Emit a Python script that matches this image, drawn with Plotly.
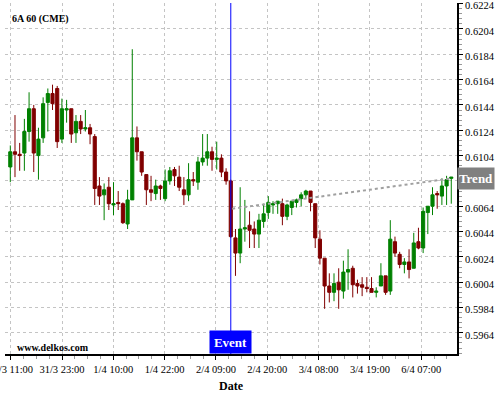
import plotly.graph_objects as go

# ---- data ----
opens = [0.6095, 0.6107, 0.6105, 0.6106, 0.6123, 0.6141, 0.6104, 0.6118, 0.6146, 0.6153,
         0.6157, 0.6117, 0.6140, 0.6141, 0.6122, 0.6131, 0.6125, 0.6126, 0.6119, 0.6080,
         0.6073, 0.6079, 0.6065, 0.6067, 0.6066, 0.6050, 0.6069, 0.6118, 0.6107, 0.6089,
         0.6077, 0.6074, 0.6080, 0.6070, 0.6084, 0.6093, 0.6087, 0.6077, 0.6073, 0.6085,
         0.6083, 0.6099, 0.6102, 0.6107, 0.6101, 0.6102, 0.6091, 0.6084, 0.6039, 0.6027,
         0.6046, 0.6049, 0.6046, 0.6042, 0.6052, 0.6059, 0.6065, 0.6066, 0.6066, 0.6056,
         0.6063, 0.6067, 0.6070, 0.6073, 0.6076, 0.6066, 0.6038, 0.6023, 0.6001, 0.5996,
         0.6004, 0.5997, 0.6012, 0.6015, 0.6003, 0.6002, 0.6000, 0.5999, 0.5996, 0.6001,
         0.6009, 0.5997, 0.6036, 0.6026, 0.6018, 0.6020, 0.6015, 0.6036, 0.6031, 0.6059,
         0.6064, 0.6074, 0.6072, 0.6080, 0.6086]
highs = [0.6112, 0.6136, 0.6114, 0.6133, 0.6154, 0.6144, 0.6126, 0.6150, 0.6157, 0.6160,
         0.6159, 0.6149, 0.6148, 0.6141, 0.6136, 0.6136, 0.6140, 0.6129, 0.6121, 0.6087,
         0.6082, 0.6087, 0.6083, 0.6076, 0.6067, 0.6077, 0.6188, 0.6127, 0.6107, 0.6089,
         0.6088, 0.6085, 0.6081, 0.6093, 0.6095, 0.6095, 0.6096, 0.6087, 0.6098, 0.6091,
         0.6103, 0.6121, 0.6121, 0.6111, 0.6115, 0.6105, 0.6094, 0.6085, 0.6046, 0.6079,
         0.6069, 0.6060, 0.6052, 0.6058, 0.6066, 0.6072, 0.6068, 0.6068, 0.6070, 0.6066,
         0.6068, 0.6070, 0.6075, 0.6077, 0.6076, 0.6066, 0.6045, 0.6023, 0.6011, 0.6011,
         0.6015, 0.6021, 0.6030, 0.6017, 0.6006, 0.6008, 0.6008, 0.6008, 0.6000, 0.6019,
         0.6009, 0.6053, 0.6040, 0.6028, 0.6023, 0.6030, 0.6043, 0.6047, 0.6063, 0.6064,
         0.6079, 0.6076, 0.6086, 0.6088, 0.6087]
lows = [0.6083, 0.6087, 0.6092, 0.6092, 0.6115, 0.6091, 0.6085, 0.6114, 0.6123, 0.6140,
        0.6110, 0.6114, 0.6130, 0.6114, 0.6114, 0.6121, 0.6123, 0.6113, 0.6065, 0.6065,
        0.6053, 0.6061, 0.6057, 0.6061, 0.6050, 0.6046, 0.6069, 0.6100, 0.6088, 0.6065,
        0.6068, 0.6069, 0.6069, 0.6068, 0.6081, 0.6080, 0.6076, 0.6065, 0.6068, 0.6080,
        0.6077, 0.6096, 0.6096, 0.6092, 0.6093, 0.6087, 0.6081, 0.6039, 0.6009, 0.6019,
        0.6036, 0.6031, 0.6031, 0.6031, 0.6047, 0.6054, 0.6058, 0.6058, 0.6049, 0.6053,
        0.6057, 0.6063, 0.6064, 0.6070, 0.6060, 0.6031, 0.6018, 0.5983, 0.5988, 0.5989,
        0.5983, 0.5991, 0.5998, 0.5992, 0.5995, 0.5993, 0.5996, 0.5996, 0.5992, 0.6001,
        0.5994, 0.5994, 0.6024, 0.6015, 0.6011, 0.6007, 0.6015, 0.6030, 0.6027, 0.6042,
        0.6057, 0.6062, 0.6065, 0.6065, 0.6066]
closes = [0.6107, 0.6105, 0.6104, 0.6123, 0.6141, 0.6106, 0.6117, 0.6145, 0.6153, 0.6145,
          0.6115, 0.6141, 0.6141, 0.6121, 0.6131, 0.6125, 0.6126, 0.6121, 0.6078, 0.6072,
          0.6077, 0.6066, 0.6066, 0.6066, 0.6051, 0.6069, 0.6118, 0.6107, 0.6091, 0.6077,
          0.6075, 0.6080, 0.6078, 0.6084, 0.6092, 0.6088, 0.6079, 0.6073, 0.6085, 0.6084,
          0.6099, 0.6102, 0.6107, 0.6101, 0.6102, 0.6091, 0.6084, 0.6040, 0.6027, 0.6046,
          0.6047, 0.6045, 0.6042, 0.6053, 0.6058, 0.6067, 0.6066, 0.6068, 0.6056, 0.6065,
          0.6068, 0.6069, 0.6073, 0.6076, 0.6067, 0.6039, 0.6023, 0.6001, 0.5996, 0.6003,
          0.5998, 0.6012, 0.6014, 0.6002, 0.6001, 0.6000, 0.5999, 0.5996, 0.5997, 0.6009,
          0.5996, 0.6038, 0.6027, 0.6018, 0.6020, 0.6014, 0.6035, 0.6031, 0.6060, 0.6064,
          0.6073, 0.6073, 0.6080, 0.6085, 0.6087]
bars = list(range(len(opens)))

x_tick_labels = ["31/3 11:00", "31/3 23:00", "1/4 10:00", "1/4 22:00", "2/4 09:00",
                 "2/4 20:00", "3/4 08:00", "3/4 19:00", "6/4 07:00"]
y_tick_values = [0.5964, 0.5984, 0.6004, 0.6024, 0.6044, 0.6064, 0.6084,
                 0.6104, 0.6124, 0.6144, 0.6164, 0.6184, 0.6204, 0.6224]

event_bar = 47
trend_x = [47.3, 94]
trend_y = [0.6062, 0.6086]

# ---- layout helpers ----
tick_step = 10.94
tick0 = 0.08
x_tick_pos = [tick0 + k * tick_step for k in range(len(x_tick_labels))]
x_minor_pos = [tick0 + k * tick_step / 4 for k in range(-1, 4 * len(x_tick_labels) + 4)]
# the label hidden under the "Trend" tag is left blank
y_tick_text = ["" if abs(v - trend_y[-1]) < 0.0005 else f"{v:.4f}" for v in y_tick_values]

serif = "Liberation Serif, Times New Roman, serif"
GREEN = "#008000"
RED = "#800000"
GRID = "#c4c4c4"

fig = go.Figure()
fig.add_trace(go.Scatter(
    x=trend_x, y=trend_y, mode="lines",
    line=dict(color="#a0a0a0", width=2, dash="dot"),
    showlegend=False, hoverinfo="skip",
))
fig.add_trace(go.Candlestick(
    x=bars, open=opens, high=highs, low=lows, close=closes,
    increasing=dict(line=dict(color=GREEN, width=1), fillcolor=GREEN),
    decreasing=dict(line=dict(color=RED, width=1), fillcolor=RED),
    whiskerwidth=0, showlegend=False, hoverinfo="skip",
))

fig.add_shape(type="line", xref="x", yref="paper", x0=event_bar, x1=event_bar,
              y0=0, y1=1, line=dict(color="#0000ff", width=1))

fig.add_annotation(x=event_bar, xref="x", y=0, yref="paper", yanchor="bottom",
                   text="<b>Event</b>", showarrow=False, bgcolor="#0000ff",
                   font=dict(family=serif, size=13, color="white"),
                   width=39, height=20, borderpad=1)
fig.add_annotation(x=1, xref="paper", xanchor="left", y=trend_y[-1], yref="y",
                   text="<b>Trend</b>", showarrow=False, bgcolor="#808080",
                   font=dict(family=serif, size=13, color="white"),
                   width=34, height=19, borderpad=1)
fig.add_annotation(x=0.012, xref="paper", xanchor="left", y=0.955, yref="paper",
                   yanchor="middle", text="<b>6A 60 (CME)</b>", showarrow=False,
                   font=dict(family=serif, size=10, color="black"))
fig.add_annotation(x=0.022, xref="paper", xanchor="left", y=0.018, yref="paper",
                   yanchor="middle", text="<b>www.delkos.com</b>", showarrow=False,
                   font=dict(family=serif, size=10, color="black"))

fig.update_layout(
    width=500, height=400,
    margin=dict(l=5, r=43, t=3, b=46, autoexpand=False),
    paper_bgcolor="white", plot_bgcolor="white",
    boxgap=0.05,
    font=dict(family=serif, size=10.5, color="black"),
    xaxis=dict(
        range=[-1.13, 95.22], rangeslider=dict(visible=False),
        automargin=False, ticklabeloverflow="allow",
        tickmode="array", tickvals=x_tick_pos, ticktext=x_tick_labels,
        ticks="outside", ticklen=4, tickcolor="black",
        showline=True, linecolor="black", linewidth=2,
        showgrid=True, gridcolor=GRID, griddash="3px,3px", gridwidth=1,
        zeroline=False,
        minor=dict(tickmode="array", tickvals=x_minor_pos, ticks="outside",
                   ticklen=3, tickcolor="#999999", showgrid=False),
        title=dict(text="<b>Date</b>", font=dict(family=serif, size=12), standoff=8),
        tickfont=dict(family=serif, size=10.5),
    ),
    yaxis=dict(
        side="right", range=[0.59473, 0.62245],
        automargin=False, ticklabeloverflow="allow", ticklabelshift=2,
        tickmode="array", tickvals=y_tick_values, ticktext=y_tick_text,
        ticks="outside", ticklen=4, tickcolor="black",
        showline=True, linecolor="black", linewidth=2,
        showgrid=True, gridcolor=GRID, griddash="3px,3px", gridwidth=1,
        zeroline=False,
        minor=dict(dtick=0.0004, tick0=0.5964, ticks="outside", ticklen=3,
                   tickcolor="#999999", showgrid=False),
        tickfont=dict(family=serif, size=10.5),
    ),
)

fig.write_html("out.html",
               config={"displayModeBar": False},
               post_script="document.body.style.margin='0px';"
                           "document.body.style.overflow='hidden';")
